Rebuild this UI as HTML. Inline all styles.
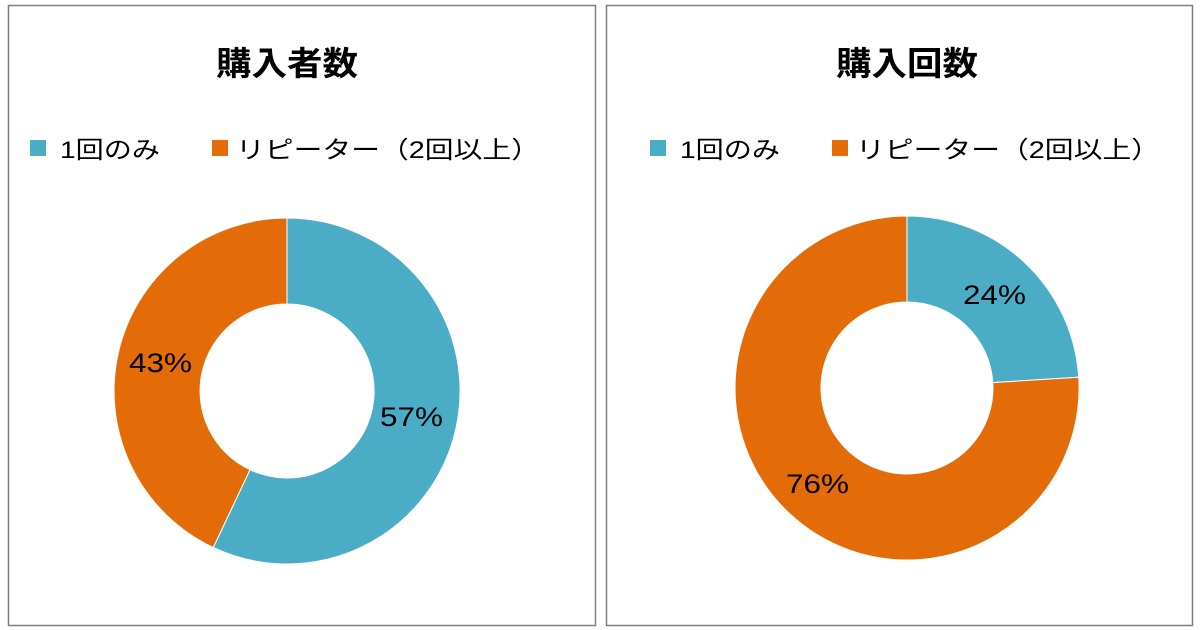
<!DOCTYPE html>
<html><head><meta charset="utf-8"><style>
html,body{margin:0;padding:0;background:#fff;}
svg{display:block;font-family:"Liberation Sans","Noto Sans CJK JP",sans-serif;}
</style></head><body>
<svg width="1200" height="630" viewBox="0 0 1200 630">
<rect x="0" y="0" width="1200" height="630" fill="#fff"/>
<rect x="8.5" y="5.5" width="587" height="620" fill="#fff" stroke="#7f7f7f" stroke-width="1.5"/>
<rect x="606.5" y="5.5" width="586" height="620" fill="#fff" stroke="#7f7f7f" stroke-width="1.5"/>

<text x="216" y="75" font-size="33" font-weight="bold" textLength="142" lengthAdjust="spacingAndGlyphs" fill="#000">購入者数</text>
<rect x="30" y="140" width="16" height="16" fill="#4bacc6"/>
<text x="60" y="158" font-size="24" textLength="100" lengthAdjust="spacingAndGlyphs" fill="#000">1回のみ</text>
<rect x="212" y="140" width="16" height="16" fill="#e36c09"/>
<text x="236" y="158" font-size="24" textLength="304" lengthAdjust="spacingAndGlyphs" fill="#000">リピーター（2回以上）</text>

<path d="M287 218 A173 173 0 1 1 213.3 547.5 L250 469.7 A87 87 0 1 0 287 304 Z" fill="#4bacc6" stroke="#fff" stroke-width="1"/>
<path d="M213.3 547.5 A173 173 0 0 1 287 218 L287 304 A87 87 0 0 0 250 469.7 Z" fill="#e36c09" stroke="#fff" stroke-width="1"/>
<text x="380" y="426" font-size="27" textLength="63" lengthAdjust="spacingAndGlyphs" fill="#000">57%</text>
<text x="129" y="372" font-size="27" textLength="63" lengthAdjust="spacingAndGlyphs" fill="#000">43%</text>

<text x="836" y="75" font-size="33" font-weight="bold" textLength="142" lengthAdjust="spacingAndGlyphs" fill="#000">購入回数</text>
<rect x="650" y="140" width="16" height="16" fill="#4bacc6"/>
<text x="680" y="158" font-size="24" textLength="100" lengthAdjust="spacingAndGlyphs" fill="#000">1回のみ</text>
<rect x="832" y="140" width="16" height="16" fill="#e36c09"/>
<text x="856" y="158" font-size="24" textLength="304" lengthAdjust="spacingAndGlyphs" fill="#000">リピーター（2回以上）</text>

<path d="M907 216 A172 172 0 0 1 1078.7 377.2 L992.8 382.6 A86 86 0 0 0 907 302 Z" fill="#4bacc6" stroke="#fff" stroke-width="1"/>
<path d="M1078.7 377.2 A172 172 0 1 1 907 216 L907 302 A86 86 0 1 0 992.8 382.6 Z" fill="#e36c09" stroke="#fff" stroke-width="1"/>
<text x="963" y="304" font-size="27" textLength="63" lengthAdjust="spacingAndGlyphs" fill="#000">24%</text>
<text x="786" y="493" font-size="27" textLength="63" lengthAdjust="spacingAndGlyphs" fill="#000">76%</text>
</svg>
</body></html>
